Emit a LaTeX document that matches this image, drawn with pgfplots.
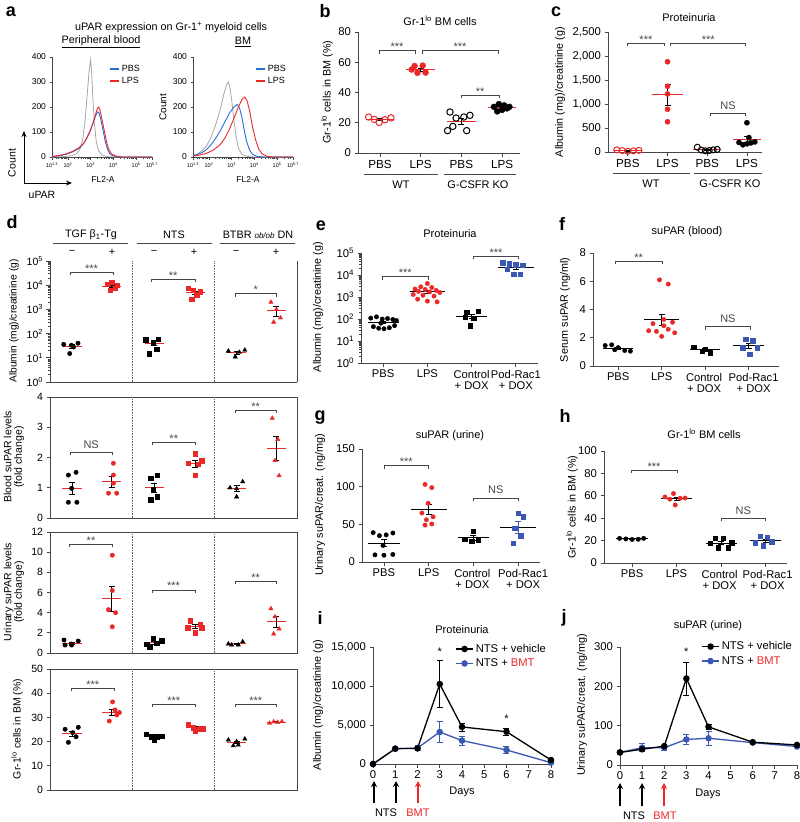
\documentclass[border=0pt]{standalone}
\usepackage{pgfplots}
\pgfplotsset{compat=1.18}
\usepackage{fontspec}
\setmainfont{Liberation Sans}
\usetikzlibrary{arrows.meta}
\newcommand{\fs}[1]{\fontsize{#1}{#1}\selectfont}
\definecolor{myred}{RGB}{235,40,40}
\definecolor{myblue}{RGB}{58,88,178}
\definecolor{hblue}{RGB}{40,110,215}
\definecolor{axc}{RGB}{70,70,70}
\newcommand{\brk}[5]{%
  \draw[axc, line width=0.7pt] (axis cs:#1,#3) ++(0pt,-3pt) -- ++(0pt,3pt) -- (axis cs:#2,#3) -- ++(0pt,-3pt);
  \node[anchor=base, inner sep=0pt, font=\fs{11}, text=axc, yshift=#5] at (axis cs:{(#1+#2)/2},#3) {#4};}
\newcommand{\eb}[4]{\addplot[#4, mark=none, forget plot, error bars/.cd, y dir=both, y explicit, error bar style={#4, line width=0.75pt}, error mark options={rotate=90, #4, mark size=3pt, line width=0.75pt}] coordinates {(#1,#2) +- (0,#3)};}
\newcommand{\ml}[4]{\addplot[#4, line width=1pt, forget plot] coordinates {(#1,#3)(#2,#3)};}
\pgfplotsset{
 base/.style={scale only axis, anchor=south west, clip=false,
   axis line style={axc, line width=0.8pt},
   tick style={axc, line width=0.8pt},
   tick align=outside, major tick length=3.5pt, minor tick length=2pt,
   /pgf/number format/assume math mode=true,
   /pgf/number format/1000 sep={,},
   scaled ticks=false,
   tick label style={font=\fs{11.3}, text=black},
   axis x line*=bottom, axis y line*=left},
 catax/.style={base, xtick={1,2,3,4}, xticklabel style={font=\fs{11.2}, align=center},
   xticklabels={PBS,LPS,{Control\\+ DOX},{Pod-Rac1\\+ DOX}}},
 cataxs/.style={catax, xticklabels={PBS,LPS,{Control\hspace*{2pt}\\+ DOX\hspace*{2pt}},{\hspace*{10pt}Pod-Rac1\\\hspace*{10pt}+ DOX}}},
 cataxh/.style={catax, xticklabels={PBS,LPS,{Control\hspace*{3pt}\\+ DOX\hspace*{3pt}},{\hspace*{4pt}Pod-Rac1\\\hspace*{4pt}+ DOX}}},
 hist/.style={base, width=100pt, height=100pt, xmin=1.3, xmax=5.7, ymin=0, ymax=400,
   ytick={0,100,200,300,400}, yticklabel style={font=\fs{8.5}},
   xtick={1.3,2,3,4,5,5.7},
   xticklabels={10\textsuperscript{1.3},10\textsuperscript{2},10\textsuperscript{3},10\textsuperscript{4},10\textsuperscript{5},10\textsuperscript{5.7}},
   xticklabel style={font=\fs{5.5}},
   minor xtick={1.477,1.602,1.699,1.778,1.845,1.903,1.954,2.301,2.477,2.602,2.699,2.778,2.845,2.903,2.954,3.301,3.477,3.602,3.699,3.778,3.845,3.903,3.954,4.301,4.477,4.602,4.699,4.778,4.845,4.903,4.954,5.301,5.477,5.602,5.699},
   major tick length=2.5pt, minor tick length=1.5pt,
   legend style={draw=none, fill=none, font=\fs{9}, inner sep=0pt, row sep=0pt},
   legend cell align=left,
   legend image code/.code={\draw[##1, line width=1.3pt] (0pt,0pt) -- (9pt,0pt);}},
 dax/.style={base, width=247pt, height=121pt, xmin=0, xmax=9, xtick=\empty,
   tick label style={font=\fs{10.5}}},
 dbox/.style={axis x line=box, axis y line=box, ytick pos=left},
}
\begin{document}
\begin{tikzpicture}
\useasboundingbox (0pt,0pt) rectangle (800pt,-822pt);
% ================= panel a =================
\node[font=\fs{18}\bfseries] at (11pt,-12pt) {a};
\node[font=\fs{10.8}] at (171pt,-27pt) {uPAR expression on Gr-1\textsuperscript{+} myeloid cells};
\node[font=\fs{10.8}] at (101pt,-42pt) {\underline{Peripheral blood}};
\node[font=\fs{10.8}] at (243pt,-42pt) {\underline{BM}};
\begin{axis}[hist, at={(52pt,-157pt)},
  legend style={at={(0.9,0.94)}, anchor=north east}]
\addplot[gray!70, line width=0.8pt, forget plot] coordinates {(1.3,0)(1.9,2)(2.2,6)(2.4,14)(2.55,35)(2.65,70)(2.75,140)(2.85,250)(2.93,340)(3.0,390)(3.05,330)(3.1,230)(3.17,130)(3.25,60)(3.35,25)(3.5,8)(3.7,2)(4.0,0)(5.7,0)};
\addplot[hblue, line width=0.9pt] coordinates {(1.3,0)(1.6,5)(1.9,10)(2.2,20)(2.5,35)(2.7,55)(2.85,80)(3.0,110)(3.1,135)(3.2,160)(3.3,180)(3.36,178)(3.45,150)(3.55,105)(3.65,60)(3.75,30)(3.85,12)(4.0,4)(4.3,0)(5.7,0)};
\addlegendentry{PBS}
\addplot[myred, line width=0.9pt] coordinates {(1.3,2)(1.6,6)(1.9,12)(2.2,22)(2.5,38)(2.7,55)(2.85,78)(3.0,108)(3.1,135)(3.2,165)(3.3,195)(3.36,200)(3.42,185)(3.5,150)(3.6,105)(3.7,60)(3.8,30)(3.92,12)(4.1,4)(4.4,0)(5.7,0)};
\addlegendentry{LPS}
\end{axis}
\begin{axis}[hist, at={(193pt,-157pt)},
  legend style={at={(0.95,0.94)}, anchor=north east}]
\addplot[gray!70, line width=0.8pt, forget plot] coordinates {(1.3,5)(1.5,12)(1.7,25)(1.9,45)(2.1,80)(2.3,130)(2.5,190)(2.65,250)(2.78,290)(2.85,300)(2.92,280)(3.0,230)(3.1,150)(3.2,80)(3.3,35)(3.45,10)(3.7,2)(4.0,0)(5.7,0)};
\addplot[hblue, line width=0.9pt] coordinates {(1.3,5)(1.5,10)(1.7,18)(1.9,30)(2.1,50)(2.3,75)(2.5,105)(2.7,140)(2.9,175)(3.1,200)(3.25,210)(3.35,195)(3.45,160)(3.55,110)(3.65,65)(3.78,30)(3.9,12)(4.1,3)(4.4,0)(5.7,0)};
\addlegendentry{PBS}
\addplot[myred, line width=0.9pt] coordinates {(1.3,3)(1.6,8)(1.9,15)(2.2,28)(2.5,50)(2.7,75)(2.9,110)(3.1,155)(3.3,200)(3.45,230)(3.58,240)(3.68,225)(3.8,180)(3.92,120)(4.05,70)(4.2,30)(4.35,12)(4.55,3)(4.8,0)(5.7,0)};
\addlegendentry{LPS}
\end{axis}
\node[font=\fs{10}, rotate=90] at (163pt,-107pt) {Count};
\node[font=\fs{8.5}] at (103pt,-180pt) {FL2-A};
\node[font=\fs{8.5}] at (248pt,-180pt) {FL2-A};
\draw[line width=1pt, -{Stealth[length=6pt,width=5pt]}] (24pt,-183pt) -- (24pt,-131pt);
\draw[line width=1pt, -{Stealth[length=6pt,width=5pt]}] (24pt,-183pt) -- (72pt,-183pt);
\node[font=\fs{10.5}, rotate=90] at (12pt,-163pt) {Count};
\node[font=\fs{10.5}] at (42pt,-195pt) {uPAR};
% ================= panel b =================
\node[font=\fs{18}\bfseries] at (325pt,-11pt) {b};
\node[font=\fs{11}] at (440pt,-21pt) {Gr-1\textsuperscript{lo} BM cells};
\begin{axis}[base, at={(358pt,-153pt)}, width=162pt, height=121pt,
  xmin=0.46, xmax=4.44, ymin=0, ymax=80, ytick={0,20,40,60,80},
  xtick={1,2,3,4}, xticklabels={PBS,LPS,PBS,LPS}, xticklabel style={font=\fs{11.7}}]
\addplot[only marks, mark=o, myred, mark size=3.2pt, line width=1pt] coordinates {(0.72,23.8)(0.86,22.2)(0.98,20.2)(1.12,22.0)(1.27,23.2)};
\addplot[only marks, mark=*, myred, mark size=3pt] coordinates {(1.85,57.5)(2.05,57.8)(1.92,53.0)(2.12,53.2)(1.78,55.2)};
\addplot[only marks, mark=o, black, mark size=3.2pt, line width=1pt] coordinates {(2.72,27.1)(2.87,23.1)(3.06,23.8)(3.21,24.9)(2.79,17.6)(2.66,14.8)(3.13,14.8)};
\addplot[only marks, mark=*, black, mark size=3pt] coordinates {(3.8,30.5)(3.92,32.3)(4.05,31.5)(4.18,30.5)(3.88,27.5)(4.0,28.5)(4.12,29.5)};
\ml{0.65}{1.35}{22.3}{myred} \eb{1}{22.3}{0.8}{black}
\ml{1.65}{2.35}{55}{myred} \eb{2}{55}{1.0}{black}
\ml{2.65}{3.35}{20.9}{myred} \eb{3}{20.9}{1.8}{black}
\ml{3.65}{4.35}{30}{myred} \eb{4}{30}{0.7}{black}
\brk{0.98}{1.86}{67.6}{***}{0pt}
\brk{2.03}{3.9}{67.6}{***}{0pt}
\brk{2.99}{3.93}{38.3}{**}{0pt}
\end{axis}
\node[font=\fs{10.8}, rotate=90] at (327pt,-92pt) {Gr-1\textsuperscript{lo} cells in BM (\%)};
\draw[axc, line width=0.8pt] (364pt,-174pt) -- (438pt,-174pt);
\draw[axc, line width=0.8pt] (444pt,-174pt) -- (516pt,-174pt);
\node[font=\fs{11}] at (401pt,-185pt) {WT};
\node[font=\fs{11}] at (478pt,-185pt) {G-CSFR KO};
% ================= panel c =================
\node[font=\fs{18}\bfseries] at (556pt,-12pt) {c};
\node[font=\fs{11}] at (689pt,-18pt) {Proteinuria};
\begin{axis}[base, at={(608pt,-152pt)}, width=154pt, height=120pt,
  xmin=0.5, xmax=4.38, ymin=0, ymax=2500, ytick={0,500,1000,1500,2000,2500},
  xtick={1,2,3,4}, xticklabels={PBS,LPS,PBS,LPS}, xticklabel style={font=\fs{11.7}}]
\addplot[only marks, mark=o, myred, mark size=3pt, line width=1pt] coordinates {(0.72,45)(0.86,30)(1.0,15)(1.14,25)(1.28,35)};
\addplot[only marks, mark=*, myred, mark size=2.6pt] coordinates {(2.0,1880)(2.0,1370)(2.0,1210)(2.0,890)(2.0,630)};
\addplot[only marks, mark=o, black, mark size=3pt, line width=1pt] coordinates {(2.75,100)(2.85,40)(2.95,25)(3.05,30)(3.15,45)(3.25,55)};
\addplot[only marks, mark=*, black, mark size=2.6pt] coordinates {(4.0,610)(3.8,200)(3.9,150)(4.0,170)(4.1,190)(4.2,210)(4.05,300)};
\ml{0.65}{1.35}{30}{myred} \eb{1}{30}{8}{black}
\ml{1.6}{2.4}{1196}{myred} \eb{2}{1196}{220}{black}
\ml{2.65}{3.35}{50}{myred} \eb{3}{50}{12}{black}
\ml{3.65}{4.35}{262}{myred} \eb{4}{262}{60}{black}
\brk{0.99}{1.92}{2264}{***}{0pt}
\brk{2.08}{3.97}{2264}{***}{0pt}
\brk{3.08}{3.97}{806}{NS}{4pt}
\end{axis}
\node[font=\fs{10.8}, rotate=90] at (560pt,-92pt) {Albumin (mg)/creatinine (g)};
\draw[axc, line width=0.8pt] (613pt,-173pt) -- (690pt,-173pt);
\draw[axc, line width=0.8pt] (694pt,-173pt) -- (762pt,-173pt);
\node[font=\fs{11}] at (651pt,-184pt) {WT};
\node[font=\fs{11}] at (730pt,-184pt) {G-CSFR KO};
% ================= panel d =================
\node[font=\fs{18}\bfseries] at (12pt,-222pt) {d};
\node[font=\fs{10.8}] at (91pt,-235pt) {TGF β\textsubscript{1}-Tg};
\node[font=\fs{10.8}] at (174pt,-235pt) {NTS};
\node[font=\fs{10.8}] at (258pt,-235pt) {BTBR {\fs{8}\itshape ob/ob} DN};
\draw[axc, line width=0.8pt] (53pt,-243pt) -- (128pt,-243pt);
\draw[axc, line width=0.8pt] (137pt,-243pt) -- (212pt,-243pt);
\draw[axc, line width=0.8pt] (220pt,-243pt) -- (295pt,-243pt);
\foreach \xx in {72,154,236} {\node[font=\fs{11}] at (\xx pt,-252pt) {−};}
\foreach \xx in {112,194,276} {\node[font=\fs{11}] at (\xx pt,-252pt) {+};}
% row 1
\begin{axis}[dax, at={(50pt,-382pt)}, ymode=log, ymin=1, ymax=100000,
  ytick={1,10,100,1000,10000,100000},
  yticklabels={10\textsuperscript{0},10\textsuperscript{1},10\textsuperscript{2},10\textsuperscript{3},10\textsuperscript{4},10\textsuperscript{5}}]
\draw[axc, line width=0.8pt] (rel axis cs:1,0) -- (rel axis cs:1,1);
\draw[black!60, line width=0.6pt, densely dotted] (rel axis cs:0.3333,0) -- (rel axis cs:0.3333,1);
\draw[black!60, line width=0.6pt, densely dotted] (rel axis cs:0.6667,0) -- (rel axis cs:0.6667,1);
\addplot[only marks, mark=*, black, mark size=2.2pt] coordinates {(0.5,36)(0.72,15)(0.86,28)(1.02,40)(0.78,33)};
\addplot[only marks, mark=square*, myred, mark size=2.2pt] coordinates {(2.1,11000)(2.25,13000)(2.45,10000)(2.2,6300)(2.38,7400)};
\addplot[only marks, mark=square*, black, mark size=2.2pt] coordinates {(3.49,55)(3.77,44)(3.95,60)(3.89,23)(3.61,15)};
\addplot[only marks, mark=square*, myred, mark size=2.2pt] coordinates {(5.04,7400)(5.22,6300)(5.47,5400)(5.16,2700)(5.35,4000)};
\addplot[only marks, mark=triangle*, black, mark size=2.5pt] coordinates {(6.5,19)(6.75,11)(6.9,17)(7.1,21)};
\addplot[only marks, mark=triangle*, myred, mark size=2.5pt] coordinates {(8.05,2000)(8.25,1000)(8.4,450)(8.15,300)};
\ml{0.45}{1.15}{30}{myred} \eb{0.8}{30}{5}{black}
\ml{1.9}{2.6}{9000}{myred} \eb{2.25}{9000}{1200}{black}
\ml{3.45}{4.15}{40}{myred} \eb{3.8}{40}{8}{black}
\ml{4.95}{5.65}{4800}{myred} \eb{5.3}{4800}{800}{black}
\ml{6.45}{7.15}{16}{myred} \eb{6.8}{16}{2.2}{black}
\ml{7.9}{8.6}{900}{myred} \eb{8.25}{900}{400}{black}
\brk{0.73}{2.3}{35000}{***}{0pt}
\brk{3.7}{5.28}{18000}{**}{0pt}
\brk{6.74}{8.25}{4400}{*}{0pt}
\end{axis}
% row 2
\begin{axis}[dax, dbox, at={(50pt,-518pt)}, ymin=0, ymax=4, ytick={0,1,2,3,4}]
\draw[black!60, line width=0.6pt, densely dotted] (rel axis cs:0.3333,0) -- (rel axis cs:0.3333,1);
\draw[black!60, line width=0.6pt, densely dotted] (rel axis cs:0.6667,0) -- (rel axis cs:0.6667,1);
\addplot[only marks, mark=*, black, mark size=2.2pt] coordinates {(0.67,1.42)(0.95,1.51)(0.79,0.98)(0.67,0.52)(0.98,0.52)};
\addplot[only marks, mark=*, myred, mark size=2.2pt] coordinates {(2.31,1.81)(2.31,1.42)(2.31,1.15)(2.13,0.82)(2.43,0.82)};
\addplot[only marks, mark=square*, black, mark size=2.2pt] coordinates {(3.67,1.31)(3.91,1.42)(3.77,0.96)(3.67,0.6)(3.91,0.7)};
\addplot[only marks, mark=square*, myred, mark size=2.2pt] coordinates {(5.28,2.12)(5.53,1.9)(5.04,1.81)(5.4,1.78)(5.28,1.42)};
\addplot[only marks, mark=triangle*, black, mark size=2.5pt] coordinates {(6.56,1.0)(7.02,1.2)(6.8,0.97)(6.8,0.7)};
\addplot[only marks, mark=triangle*, myred, mark size=2.5pt] coordinates {(8.1,3.3)(8.3,2.6)(8.2,1.9)(8.35,1.4)};
\ml{0.45}{1.15}{0.99}{myred} \eb{0.8}{0.99}{0.2}{black}
\ml{1.9}{2.6}{1.2}{myred} \eb{2.25}{1.2}{0.19}{black}
\ml{3.45}{4.15}{1.0}{myred} \eb{3.8}{1.0}{0.16}{black}
\ml{4.95}{5.65}{1.8}{myred} \eb{5.3}{1.8}{0.11}{black}
\ml{6.45}{7.15}{0.97}{myred} \eb{6.8}{0.97}{0.1}{black}
\ml{7.9}{8.6}{2.3}{myred} \eb{8.25}{2.3}{0.4}{black}
\brk{0.73}{2.27}{2.18}{NS}{4pt}
\brk{3.74}{5.28}{2.5}{**}{0pt}
\brk{6.74}{8.25}{3.57}{**}{0pt}
\end{axis}
% row 3
\begin{axis}[dax, dbox, at={(50pt,-653pt)}, ymin=0, ymax=12, ytick={0,2,4,6,8,10,12}]
\draw[black!60, line width=0.6pt, densely dotted] (rel axis cs:0.3333,0) -- (rel axis cs:0.3333,1);
\draw[black!60, line width=0.6pt, densely dotted] (rel axis cs:0.6667,0) -- (rel axis cs:0.6667,1);
\addplot[only marks, mark=*, black, mark size=2.2pt] coordinates {(0.51,1.29)(1.03,1.19)(0.77,0.89)(0.55,0.79)(0.79,0.79)};
\addplot[only marks, mark=*, myred, mark size=2.2pt] coordinates {(2.27,9.7)(2.27,6.2)(2.13,4.3)(2.39,4.0)(2.27,2.6)};
\addplot[only marks, mark=square*, black, mark size=2.2pt] coordinates {(3.52,0.89)(3.77,1.45)(4.07,1.22)(3.64,0.62)(3.89,0.96)};
\addplot[only marks, mark=square*, myred, mark size=2.2pt] coordinates {(5.1,3.2)(5.47,2.87)(5.02,2.5)(5.53,2.5)(5.28,2.0)};
\addplot[only marks, mark=triangle*, black, mark size=2.5pt] coordinates {(6.5,0.9)(7.02,1.12)(6.62,0.8)(6.86,0.8)};
\addplot[only marks, mark=triangle*, myred, mark size=2.5pt] coordinates {(8.05,4.4)(8.2,3.6)(8.35,2.4)(8.15,1.9)};
\ml{0.45}{1.15}{0.99}{myred} \eb{0.8}{0.99}{0.1}{black}
\ml{1.9}{2.6}{5.36}{myred} \eb{2.25}{5.36}{1.2}{black}
\ml{3.45}{4.15}{1.03}{myred} \eb{3.8}{1.03}{0.14}{black}
\ml{4.95}{5.65}{2.6}{myred} \eb{5.3}{2.6}{0.2}{black}
\ml{6.45}{7.15}{0.9}{myred} \eb{6.8}{0.9}{0.07}{black}
\ml{7.9}{8.6}{3.08}{myred} \eb{8.25}{3.08}{0.55}{black}
\brk{0.72}{2.27}{10.8}{**}{0pt}
\brk{3.72}{5.28}{6.25}{***}{0pt}
\brk{6.74}{8.25}{7.1}{**}{0pt}
\end{axis}
% row 4
\begin{axis}[dax, dbox, at={(50pt,-790pt)}, ymin=0, ymax=50, ytick={0,10,20,30,40,50}]
\draw[black!60, line width=0.6pt, densely dotted] (rel axis cs:0.3333,0) -- (rel axis cs:0.3333,1);
\draw[black!60, line width=0.6pt, densely dotted] (rel axis cs:0.6667,0) -- (rel axis cs:0.6667,1);
\addplot[only marks, mark=*, black, mark size=2.2pt] coordinates {(0.55,25.1)(1.03,25.9)(0.83,23.7)(0.95,22.0)(0.67,19.7)};
\addplot[only marks, mark=*, myred, mark size=2.2pt] coordinates {(2.28,36.4)(2.37,33.1)(2.53,32.0)(2.16,28.5)(2.43,31.0)};
\addplot[only marks, mark=square*, black, mark size=2.2pt] coordinates {(3.5,23.0)(3.7,22)(3.91,22)(4.07,22.2)(3.79,20.7)};
\addplot[only marks, mark=square*, myred, mark size=2.2pt] coordinates {(5.04,27.2)(5.22,25.8)(5.47,25.4)(5.28,24.5)(5.59,25.4)};
\addplot[only marks, mark=triangle*, black, mark size=2.5pt] coordinates {(6.5,20.7)(7.1,21.1)(6.68,18.3)(6.86,18.6)(6.8,20.0)};
\addplot[only marks, mark=triangle*, myred, mark size=2.5pt] coordinates {(8.0,27.6)(8.15,28.2)(8.3,27.9)(8.45,28.3)};
\ml{0.45}{1.15}{23.3}{myred} \eb{0.8}{23.3}{1.1}{black}
\ml{1.9}{2.6}{32.2}{myred} \eb{2.25}{32.2}{1.3}{black}
\ml{3.45}{4.15}{22}{myred} \eb{3.8}{22}{0.4}{black}
\ml{4.95}{5.65}{25.7}{myred} \eb{5.3}{25.7}{0.45}{black}
\ml{6.45}{7.15}{19.7}{myred} \eb{6.8}{19.7}{0.6}{black}
\ml{7.9}{8.6}{28}{myred} \eb{8.25}{28}{0.2}{black}
\brk{0.77}{2.34}{42}{***}{0pt}
\brk{3.72}{5.3}{35.5}{***}{0pt}
\brk{6.74}{8.25}{35.5}{***}{0pt}
\end{axis}
\node[font=\fs{10.2}, rotate=90] at (14pt,-321pt) {Albumin (mg)/creatinine (g)};
\node[font=\fs{10.5}, rotate=90, align=center] at (14pt,-457pt) {Blood suPAR levels\\(fold change)};
\node[font=\fs{10.5}, rotate=90, align=center] at (14pt,-592pt) {Urinary suPAR levels\\(fold change)};
\node[font=\fs{10.5}, rotate=90] at (17pt,-729pt) {Gr-1\textsuperscript{lo} cells in BM (\%)};
% ================= panel e =================
\node[font=\fs{18}\bfseries] at (321pt,-226pt) {e};
\node[font=\fs{11}] at (450pt,-234pt) {Proteinuria};
\begin{axis}[catax, at={(361pt,-363pt)}, width=177pt, height=110pt, xmin=0.5, xmax=4.5,
  ymode=log, ymin=1, ymax=100000, ytick={1,10,100,1000,10000,100000},
  yticklabels={10\textsuperscript{0},10\textsuperscript{1},10\textsuperscript{2},10\textsuperscript{3},10\textsuperscript{4},10\textsuperscript{5}}]
\addplot[only marks, mark=*, black, mark size=2.2pt] coordinates {(0.72,110)(0.85,125)(0.98,100)(1.1,105)(1.22,95)(1.3,85)(0.78,45)(0.9,38)(1.02,36)(1.14,40)(1.26,50)(0.95,65)};
\addplot[only marks, mark=*, myred, mark size=2.2pt] coordinates {(2.0,4100)(1.85,2900)(2.1,2700)(1.72,2300)(1.95,2200)(2.2,2000)(1.8,1800)(2.05,1700)(2.28,1600)(1.68,1300)(1.9,1200)(2.15,1100)(1.78,800)(2.0,650)(2.22,600)};
\addplot[only marks, mark=square*, black, mark size=2.2pt] coordinates {(2.89,200)(3.15,230)(2.85,120)(3.05,110)(2.97,50)};
\addplot[only marks, mark=square*, myblue, mark size=2.2pt] coordinates {(3.7,36000)(3.85,32000)(4.0,30000)(4.15,28000)(3.8,18000)(3.95,11000)(4.1,11000)};
\ml{0.65}{1.35}{70}{black} \eb{1}{70}{9}{black}
\ml{1.6}{2.4}{1750}{black} \eb{2}{1750}{250}{black}
\ml{2.65}{3.35}{135}{black} \eb{3}{135}{32}{black}
\ml{3.6}{4.4}{22000}{black} \eb{4}{22000}{3800}{black}
\brk{0.98}{2.02}{8300}{***}{0pt}
\brk{3.04}{4.06}{73000}{***}{0pt}
\end{axis}
\node[font=\fs{10.8}, rotate=90] at (318pt,-307pt) {Albumin (mg)/creatinine (g)};
% ================= panel f =================
\node[font=\fs{18}\bfseries] at (562pt,-224pt) {f};
\node[font=\fs{11}] at (687pt,-232pt) {suPAR (blood)};
\begin{axis}[cataxs, at={(593pt,-366pt)}, width=186pt, height=113pt, xmin=0.42, xmax=4.7,
  ymin=0, ymax=8, ytick={0,2,4,6,8}]
\addplot[only marks, mark=*, black, mark size=2.2pt] coordinates {(0.7,1.45)(0.85,1.5)(1.0,1.3)(1.15,1.1)(1.28,1.05)(0.92,1.15)};
\addplot[only marks, mark=*, myred, mark size=2.2pt] coordinates {(1.95,6.1)(2.15,5.8)(2.05,3.3)(1.8,3.0)(2.05,2.85)(2.25,3.1)(1.7,2.5)(1.88,2.45)(2.3,2.35)(2.0,2.1)(2.15,2.6)};
\addplot[only marks, mark=square*, black, mark size=2.2pt] coordinates {(2.74,1.35)(2.93,1.05)(3.12,0.95)(3.0,1.2)};
\addplot[only marks, mark=square*, myblue, mark size=2.2pt] coordinates {(3.93,1.9)(4.09,1.8)(4.03,0.83)(3.86,1.3)(4.2,1.3)};
\ml{0.65}{1.35}{1.26}{black} \eb{1}{1.26}{0.08}{black}
\ml{1.6}{2.4}{3.29}{black} \eb{2}{3.29}{0.4}{black}
\ml{2.65}{3.35}{1.14}{black} \eb{3}{1.14}{0.09}{black}
\ml{3.65}{4.35}{1.43}{black} \eb{4}{1.43}{0.2}{black}
\brk{0.93}{2.01}{7.43}{**}{0pt}
\brk{3.0}{4.05}{2.78}{NS}{4pt}
\end{axis}
\node[font=\fs{10.8}, rotate=90] at (565pt,-310pt) {Serum suPAR (ng/ml)};
% ================= panel g =================
\node[font=\fs{18}\bfseries] at (320pt,-418pt) {g};
\node[font=\fs{11}] at (450pt,-436pt) {suPAR (urine)};
\begin{axis}[cataxs, at={(362pt,-562pt)}, width=178pt, height=113pt, xmin=0.51, xmax=4.49,
  ymin=0, ymax=150, ytick={0,50,100,150}]
\addplot[only marks, mark=*, black, mark size=2.2pt] coordinates {(0.76,39)(0.9,35)(1.05,36)(1.2,38.5)(0.98,22)(0.8,9.5)(1.0,9)(1.2,10)};
\addplot[only marks, mark=*, myred, mark size=2.2pt] coordinates {(1.92,103)(2.07,98.7)(1.99,78)(1.92,49)(2.07,50.5)(1.85,65)(2.1,60)(1.95,56)};
\addplot[only marks, mark=square*, black, mark size=2.2pt] coordinates {(3.0,41)(2.81,30)(2.96,28)(3.11,29)};
\addplot[only marks, mark=square*, myblue, mark size=2.2pt] coordinates {(3.89,25)(4.06,35)(4.0,65)(4.12,60)(3.92,45)};
\ml{0.65}{1.35}{24.9}{black} \eb{1}{24.9}{4.7}{black}
\ml{1.6}{2.4}{70}{black} \eb{2}{70}{7}{black}
\ml{2.65}{3.35}{32}{black} \eb{3}{32}{3}{black}
\ml{3.6}{4.4}{46}{black} \eb{4}{46}{7.5}{myblue}
\brk{1.0}{2.0}{128}{***}{0pt}
\brk{3.0}{4.0}{85}{NS}{4pt}
\end{axis}
\node[font=\fs{10.8}, rotate=90] at (320pt,-505pt) {Urinary suPAR/creat. (ng/mg)};
% ================= panel h =================
\node[font=\fs{18}\bfseries] at (565pt,-416pt) {h};
\node[font=\fs{11}] at (704pt,-434pt) {Gr-1\textsuperscript{lo} BM cells};
\begin{axis}[cataxh, at={(604pt,-563pt)}, width=183pt, height=112pt, xmin=0.37, xmax=4.48,
  ymin=0, ymax=100, ytick={0,20,40,60,80,100}]
\addplot[only marks, mark=*, black, mark size=2.2pt] coordinates {(0.72,22)(0.86,21.5)(1.0,21)(1.14,21.2)(1.26,22)};
\addplot[only marks, mark=*, myred, mark size=2.2pt] coordinates {(1.93,62)(1.74,59)(2.08,57.8)(1.85,57)(1.97,51.8)(2.19,58)};
\addplot[only marks, mark=square*, black, mark size=2.2pt] coordinates {(2.87,22)(3.05,22)(2.75,17.6)(2.94,13.7)(3.16,13.7)(3.24,18)};
\addplot[only marks, mark=square*, myblue, mark size=2.2pt] coordinates {(3.88,24)(4.03,23)(3.76,18)(3.95,15.5)(4.14,19)};
\ml{0.65}{1.35}{21.5}{black} \eb{1}{21.5}{0.3}{black}
\ml{1.65}{2.35}{57.6}{black} \eb{2}{57.6}{1.4}{black}
\ml{2.65}{3.35}{17.8}{black} \eb{3}{17.8}{1.5}{black}
\ml{3.65}{4.35}{19.9}{black} \eb{4}{19.9}{1.6}{black}
\brk{0.98}{2.01}{83}{***}{0pt}
\brk{3.0}{4.0}{40}{NS}{4pt}
\end{axis}
\node[font=\fs{10.8}, rotate=90] at (572pt,-507pt) {Gr-1\textsuperscript{lo} cells in BM (\%)};
% ================= panel i =================
\node[font=\fs{18}\bfseries] at (320pt,-618pt) {i};
\node[font=\fs{11}] at (462pt,-630pt) {Proteinuria};
\begin{axis}[base, at={(373pt,-764pt)}, width=178pt, height=117pt,
  xmin=0, xmax=8, ymin=0, ymax=15000, xtick={0,1,2,3,4,5,6,7,8},
  ytick={0,5000,10000,15000}, yticklabels={0,{5,000},{10,000},{15,000}},
  legend style={draw=none, fill=none, at={(1.0,1.06)}, anchor=north east, font=\fs{11.2}, row sep=1pt},
  legend cell align=left, reverse legend]
\addplot[myblue, line width=1.3pt, mark=*, mark size=2.6pt, error bars/.cd, y dir=both, y explicit,
  error bar style={line width=0.8pt}, error mark options={rotate=90, myblue, mark size=3pt, line width=0.8pt}]
  coordinates {(0,0) +- (0,0) (1,1950) +- (0,0) (2,2050) +- (0,300) (3,4100) +- (0,1300) (4,3000) +- (0,600) (6,1800) +- (0,500) (8,170) +- (0,0)};
\addlegendentry{NTS + \textcolor{myred}{BMT}}
\addplot[black, line width=1.3pt, mark=*, mark size=2.6pt, error bars/.cd, y dir=both, y explicit,
  error bar style={line width=0.8pt}, error mark options={rotate=90, black, mark size=3pt, line width=0.8pt}]
  coordinates {(0,0) +- (0,0) (1,1970) +- (0,0) (2,2000) +- (0,0) (3,10250) +- (0,3000) (4,4750) +- (0,520) (6,4140) +- (0,450) (8,510) +- (0,0)};
\addlegendentry{NTS + vehicle}
\node[font=\fs{11}] at (axis cs:3,14400) {*};
\node[font=\fs{11}] at (axis cs:6,5770) {*};
\end{axis}
\node[font=\fs{10.8}, rotate=90] at (318pt,-705pt) {Albumin (mg)/creatinine (g)};
\node[font=\fs{11}] at (462pt,-792pt) {Days};
\draw[line width=1.2pt, -{Stealth[length=6pt,width=6pt]}] (374pt,-803pt) -- (374pt,-781pt);
\draw[line width=1.2pt, -{Stealth[length=6pt,width=6pt]}] (396pt,-803pt) -- (396pt,-781pt);
\draw[myred, line width=1.2pt, -{Stealth[length=6pt,width=6pt]}] (418pt,-803pt) -- (418pt,-781pt);
\node[font=\fs{11}] at (386pt,-813pt) {NTS};
\node[font=\fs{11}, text=myred] at (418pt,-813pt) {BMT};
% ================= panel j =================
\node[font=\fs{18}\bfseries] at (564pt,-618pt) {j};
\node[font=\fs{11}] at (708pt,-626pt) {suPAR (urine)};
\begin{axis}[base, at={(620pt,-765pt)}, width=177pt, height=118pt,
  xmin=0, xmax=8, ymin=0, ymax=300, xtick={0,1,2,3,4,5,6,7,8},
  ytick={0,100,200,300},
  legend style={draw=none, fill=none, at={(1.0,1.08)}, anchor=north east, font=\fs{11.2}, row sep=1pt},
  legend cell align=left, reverse legend]
\addplot[myblue, line width=1.3pt, mark=*, mark size=2.6pt, error bars/.cd, y dir=both, y explicit,
  error bar style={line width=0.8pt}, error mark options={rotate=90, myblue, mark size=3pt, line width=0.8pt}]
  coordinates {(0,32) +- (0,0) (1,44) +- (0,10) (2,44) +- (0,7) (3,65) +- (0,12) (4,68) +- (0,18) (6,57) +- (0,0) (8,47) +- (0,0)};
\addlegendentry{NTS + \textcolor{myred}{BMT}}
\addplot[black, line width=1.3pt, mark=*, mark size=2.6pt, error bars/.cd, y dir=both, y explicit,
  error bar style={line width=0.8pt}, error mark options={rotate=90, black, mark size=3pt, line width=0.8pt}]
  coordinates {(0,32) +- (0,0) (1,40) +- (0,0) (2,48) +- (0,0) (3,220) +- (0,42) (4,97) +- (0,7) (6,58) +- (0,0) (8,51) +- (0,0)};
\addlegendentry{NTS + vehicle}
\node[font=\fs{11}] at (axis cs:3,288) {*};
\end{axis}
\node[font=\fs{10.8}, rotate=90] at (582pt,-705pt) {Urinary suPAR/creat. (ng/mg)};
\node[font=\fs{11}] at (708pt,-794pt) {Days};
\draw[line width=1.2pt, -{Stealth[length=6pt,width=6pt]}] (620pt,-806pt) -- (620pt,-783pt);
\draw[line width=1.2pt, -{Stealth[length=6pt,width=6pt]}] (642pt,-806pt) -- (642pt,-783pt);
\draw[myred, line width=1.2pt, -{Stealth[length=6pt,width=6pt]}] (664pt,-806pt) -- (664pt,-783pt);
\node[font=\fs{11}] at (634pt,-816pt) {NTS};
\node[font=\fs{11}, text=myred] at (665pt,-816pt) {BMT};
\end{tikzpicture}
\end{document}
